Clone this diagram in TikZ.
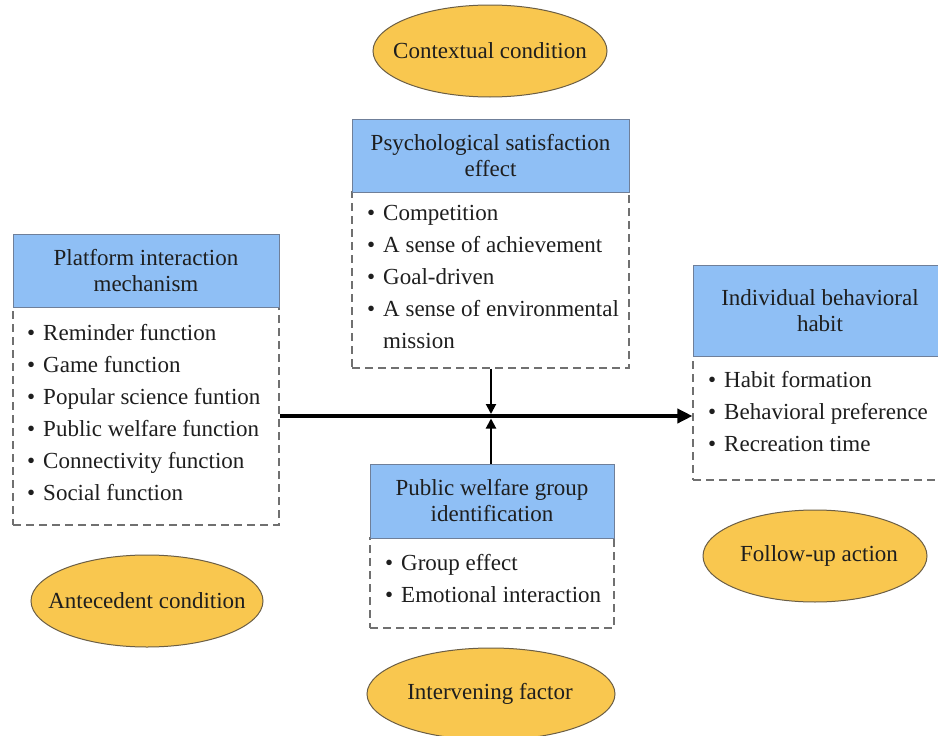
\documentclass[tikz,border=0pt]{standalone}
\usepackage{fontspec}
\setmainfont{Liberation Serif}
\usetikzlibrary{shapes.geometric,arrows.meta}
\definecolor{hdrblue}{HTML}{8FBFF5}
\definecolor{hdrline}{HTML}{6F7F99}
\definecolor{ovalfill}{HTML}{F9C74F}
\definecolor{ovalline}{HTML}{6B5E45}
\definecolor{dashgray}{HTML}{707070}
\definecolor{ink}{HTML}{1E1E1E}
\begin{document}
\begin{tikzpicture}[x=1pt,y=-1pt,
  every node/.style={font=\fontsize{23}{26}\selectfont, text=ink},
  hdr/.style={draw=hdrline, line width=1pt, fill=hdrblue, align=center, inner sep=0pt},
  body/.style={draw=dashgray, dash pattern=on 8pt off 5pt, line width=1.1pt, inner sep=0pt},
  item/.style={anchor=base west, inner sep=0pt},
  ovalshape/.style={draw=ovalline, line width=1pt, fill=ovalfill},
  ovaltext/.style={inner sep=0pt},
  mainarrow/.style={line width=3.5pt, -{Triangle[length=15pt,width=14pt]}},
  subarrow/.style={line width=2pt, -{Triangle[length=10pt,width=10pt]}}
]
\useasboundingbox (0,0) rectangle (938,736);
\clip (0,0) rectangle (938,736);
\fill[white] (0,0) rectangle (938,736);

% Platform interaction mechanism
\node[body, minimum width=266pt, minimum height=218pt] (pb) at (146,416) {};
\node[hdr, minimum width=266pt, minimum height=73pt] (ph) at (146,270.5) {Platform interaction\\mechanism};
\node[item] (p1) at (27,340) {\textbullet\hspace{8pt}Reminder function};
\node[item] (p2) at (27,372) {\textbullet\hspace{8pt}Game function};
\node[item] (p3) at (27,404) {\textbullet\hspace{8pt}Popular science funtion};
\node[item] (p4) at (27,436) {\textbullet\hspace{8pt}Public welfare function};
\node[item] (p5) at (27,468) {\textbullet\hspace{8pt}Connectivity function};
\node[item] (p6) at (27,500) {\textbullet\hspace{8pt}Social function};

% Psychological satisfaction effect
\node[body, minimum width=277pt, minimum height=176pt] (psb) at (490.5,280) {};
\node[hdr, minimum width=277pt, minimum height=73pt] (psh) at (490.5,155.5) {Psychological satisfaction\\effect};
\node[item] (s1) at (367,220) {\textbullet\hspace{8pt}Competition};
\node[item] (s2) at (367,252) {\textbullet\hspace{8pt}A sense of achievement};
\node[item] (s3) at (367,284) {\textbullet\hspace{8pt}Goal-driven};
\node[item] (s4) at (367,316) {\textbullet\hspace{8pt}A sense of environmental};
\node[item] (s5) at (383,348) {mission};

% Individual behavioral habit
\node[body, minimum width=254pt, minimum height=124pt] (ib) at (820,418) {};
\node[hdr, minimum width=254pt, minimum height=91pt] (ih) at (820,310.5) {Individual behavioral\\habit};
\node[item] (i1) at (708,387) {\textbullet\hspace{8pt}Habit formation};
\node[item] (i2) at (708,419) {\textbullet\hspace{8pt}Behavioral preference};
\node[item] (i3) at (708,451) {\textbullet\hspace{8pt}Recreation time};

% Public welfare group identification
\node[body, minimum width=244pt, minimum height=90pt] (pwb) at (492,583) {};
\node[hdr, minimum width=244pt, minimum height=74pt] (pwh) at (492,501) {Public welfare group\\identification};
\node[item] (w1) at (385,570) {\textbullet\hspace{8pt}Group effect};
\node[item] (w2) at (385,602) {\textbullet\hspace{8pt}Emotional interaction};

% Ovals
\draw[ovalshape] (490,51) ellipse [x radius=117pt, y radius=46pt];
\node[ovaltext] (ctx) at (490,51) {Contextual condition};
\draw[ovalshape] (147,601) ellipse [x radius=116pt, y radius=46pt];
\node[ovaltext] (ant) at (147,601) {Antecedent condition};
\draw[ovalshape] (815,556) ellipse [x radius=112pt, y radius=46pt];
\node[ovaltext] (fol) at (819,556) {Follow-up action};
\draw[ovalshape] (491,694) ellipse [x radius=124pt, y radius=46pt];
\node[ovaltext] (int) at (490,694) {Intervening factor};

% Connectors
\coordinate (Jt) at (491,414);
\coordinate (Jb) at (491,418.5);
\draw[mainarrow] (pb.east) -- (pb.east -| ib.west);
\draw[subarrow] (psb.south -| Jt) -- (Jt);
\draw[subarrow] (pwh.north -| Jb) -- (Jb);
\end{tikzpicture}
\end{document}
